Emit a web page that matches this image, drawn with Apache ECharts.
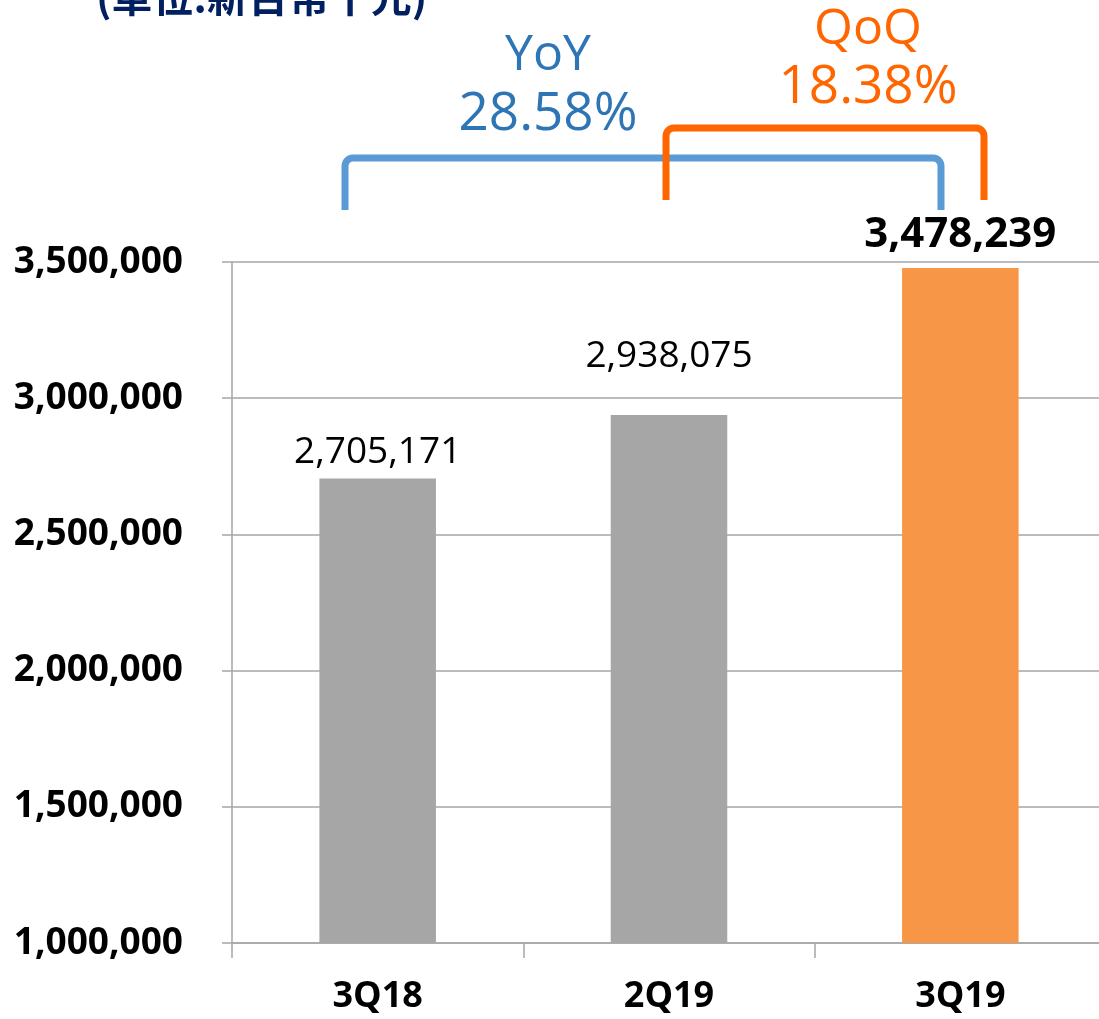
<!DOCTYPE html>
<html>
<head>
<meta charset="utf-8">
<script src="https://cdn.jsdelivr.net/npm/echarts@6/dist/echarts.min.js"></script>
<style>
  html, body { margin: 0; padding: 0; background: #fff; }
  #chart01 { width: 1099px; height: 1019px; }
</style>
</head>
<body>
<div id="chart01"></div>
<script>
    // 資料
    var categories = ["3Q18", "2Q19", "3Q19"];
    var revenue = [2705171, 2938075, 3478239];
    var barColors = ["#A6A6A6", "#A6A6A6", "#F79646"];
    var labelBold = [false, false, true];
    var labelGap = [8, 40, 12];
    var yTicks = [1000000, 1500000, 2000000, 2500000, 3000000, 3500000];
    var yoyText = ["YoY", "28.58%"];
    var qoqText = ["QoQ", "18.38%"];
    var unitText = "(單位:新台幣千元)";

    var latin = "'Open Sans', 'Noto Sans', sans-serif";
    function fmt(v) { return v.toLocaleString("en-US"); }

    // 括號形狀 (左腳, 橫線, 右腳, 圓角)
    function bracket(x1, x2, yTop, yBottomL, yBottomR, r) {
        var pts = [[x1, yBottomL], [x1, yTop + r]];
        var k;
        for (k = 1; k < 6; k++) {
            var a = Math.PI - k * Math.PI / 12;
            pts.push([x1 + r + r * Math.cos(a), yTop + r - r * Math.sin(a)]);
        }
        pts.push([x1 + r, yTop], [x2 - r, yTop]);
        for (k = 1; k < 6; k++) {
            var b = Math.PI / 2 - k * Math.PI / 12;
            pts.push([x2 - r + r * Math.cos(b), yTop + r - r * Math.sin(b)]);
        }
        pts.push([x2, yTop + r], [x2, yBottomR]);
        return pts;
    }

    var barData = revenue.map(function (v, i) {
        return {
            value: v,
            itemStyle: { color: barColors[i] },
            label: {
                fontWeight: labelBold[i] ? "bold" : "normal",
                fontSize: labelBold[i] ? 42 : 37,
                distance: labelGap[i]
            }
        };
    });

    var myChart01 = echarts.init(document.getElementById('chart01'));
    var option = {
    animation: false,
    backgroundColor: "#ffffff",
    grid: {
        left: 232,
        top: 262,
        bottom: 76,
        width: 874,
        outerBoundsMode: "none",
        containLabel: false
    },
    xAxis: [
        {
            type: "category",
            data: categories,
            axisLine: { lineStyle: { color: "#A6A6A6", width: 1.5 } },
            axisTick: { show: true, length: 15, lineStyle: { color: "#A6A6A6", width: 1.5 } },
            axisLabel: {
                margin: 36,
                color: "#000",
                fontFamily: latin,
                fontWeight: "bold",
                fontSize: 36
            },
            splitLine: { show: false }
        }
    ],
    yAxis: [
        {
            type: "value",
            min: yTicks[0],
            max: yTicks[yTicks.length - 1],
            interval: yTicks[1] - yTicks[0],
            axisLine: { show: true, lineStyle: { color: "#A6A6A6", width: 1.5 } },
            axisTick: { show: true, length: 10, lineStyle: { color: "#A6A6A6", width: 1.5 } },
            axisLabel: {
                margin: 49,
                color: "#000",
                fontFamily: latin,
                fontWeight: "bold",
                fontSize: 37,
                formatter: function (v) { return fmt(v); }
            },
            splitLine: { lineStyle: { color: "#A6A6A6", width: 1.5 } }
        }
    ],
    graphic: [
        {
            type: "text", x: 96, y: 17,
            style: { text: unitText, fill: "#002060", font: "bold 41px 'Noto Sans CJK TC', sans-serif", verticalAlign: "bottom" }
        },
        {
            type: "text", x: 548, y: 56,
            style: { text: yoyText[0], fill: "#2E75B6", font: "50px " + latin, align: "center", verticalAlign: "middle" }
        },
        {
            type: "text", x: 548, y: 115,
            style: { text: yoyText[1], fill: "#2E75B6", font: "53px " + latin, align: "center", verticalAlign: "middle" }
        },
        {
            type: "text", x: 868, y: 30,
            style: { text: qoqText[0], fill: "#FF6600", font: "50px " + latin, align: "center", verticalAlign: "middle" }
        },
        {
            type: "text", x: 868, y: 88,
            style: { text: qoqText[1], fill: "#FF6600", font: "53px " + latin, align: "center", verticalAlign: "middle" }
        },
        {
            type: "polyline",
            shape: { points: bracket(345, 941, 158, 210, 210, 8) },
            style: { stroke: "#5B9BD5", lineWidth: 7, fill: null, lineJoin: "round" }
        },
        {
            type: "polyline",
            shape: { points: bracket(666, 984, 128, 200, 200, 8) },
            style: { stroke: "#FF6600", lineWidth: 7, fill: null, lineJoin: "round" }
        }
    ],
    series: [
        {
            name: "營收",
            type: "bar",
            barWidth: "40%",
            data: barData,
            label: {
                show: true,
                position: "top",
                color: "#000",
                fontFamily: latin,
                formatter: function (p) { return fmt(p.value); }
            }
        }
    ]
};
    myChart01.setOption(option);
</script>
</body>
</html>
